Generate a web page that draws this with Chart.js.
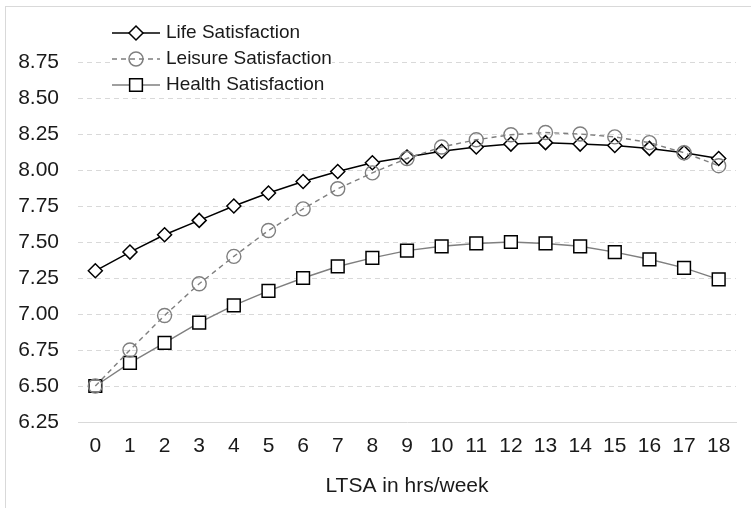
<!DOCTYPE html>
<html>
<head>
<meta charset="utf-8">
<script src="https://cdn.jsdelivr.net/npm/chart.js@4.4.1/dist/chart.umd.min.js"></script>
<style>
  body { margin: 0; background: #fff; }
  canvas { display: block; }
</style>
</head>
<body>
<canvas id="lineChart" width="751" height="508"></canvas>
<script>
// data
const hours = ['0', '1', '2', '3', '4', '5', '6', '7', '8', '9', '10', '11', '12', '13', '14', '15', '16', '17', '18'];
const lifeSat = [7.30, 7.43, 7.55, 7.65, 7.75, 7.84, 7.92, 7.99, 8.05, 8.09, 8.13, 8.16, 8.18, 8.19, 8.18, 8.17, 8.15, 8.12, 8.08];
const leisureSat = [6.50, 6.75, 6.99, 7.21, 7.40, 7.58, 7.73, 7.87, 7.98, 8.08, 8.16, 8.21, 8.245, 8.26, 8.25, 8.23, 8.19, 8.12, 8.03];
const healthSat = [6.50, 6.66, 6.80, 6.94, 7.06, 7.16, 7.25, 7.33, 7.39, 7.44, 7.47, 7.49, 7.50, 7.49, 7.47, 7.43, 7.38, 7.32, 7.24];
const yTicks = [6.25, 6.50, 6.75, 7.00, 7.25, 7.50, 7.75, 8.00, 8.25, 8.50, 8.75];

const FONT = "'Liberation Sans', Arial, sans-serif";
const TEXT = '#1a1a1a';
const GREY = '#7f7f7f';

// frame + legend drawn on top of the plot (like the Excel original)
const frameAndLegend = {
    id: 'frameAndLegend',
    afterDraw(chart) {
        const c = chart.ctx;
        c.save();
        c.strokeStyle = '#d9d9d9';
        c.lineWidth = 1;
        c.strokeRect(5.5, 6.5, 1000, 1000);

        c.fillStyle = '#fff';
        c.fillRect(110, 20, 222, 76);

        const rows = [
            { label: 'Life Satisfaction', y: 33, line: '#000', dash: [], style: 'rectRot', r: 7, fill: '#fff', stroke: '#000' },
            { label: 'Leisure Satisfaction', y: 59, line: GREY, dash: [5, 4], style: 'circle', r: 7, fill: 'rgba(0,0,0,0)', stroke: GREY },
            { label: 'Health Satisfaction', y: 85, line: GREY, dash: [], style: 'rect', r: 9, fill: '#fff', stroke: '#000' }
        ];
        rows.forEach(row => {
            c.beginPath();
            c.setLineDash(row.dash);
            c.strokeStyle = row.line;
            c.lineWidth = 1.4;
            c.moveTo(112, row.y);
            c.lineTo(160, row.y);
            c.stroke();
            c.setLineDash([]);
            c.fillStyle = row.fill;
            c.strokeStyle = row.stroke;
            c.lineWidth = 1.5;
            Chart.helpers.drawPoint(c, { pointStyle: row.style, radius: row.r, borderWidth: 1.5 }, 136, row.y);
            c.fillStyle = TEXT;
            c.font = '19px ' + FONT;
            c.textBaseline = 'middle';
            c.fillText(row.label, 166, row.y);
        });
        c.restore();
    }
};

const ctx = document.getElementById('lineChart').getContext('2d');
const lineChart = new Chart(ctx, {
    type: 'line',
    data: {
        labels: hours,
        datasets: [{
            label: 'Life Satisfaction',
            data: lifeSat,
            borderColor: '#000',
            borderWidth: 1.5,
            pointStyle: 'rectRot',
            pointRadius: 7,
            pointBackgroundColor: '#fff',
            pointBorderColor: '#000',
            pointBorderWidth: 1.5,
            order: 2
        }, {
            label: 'Leisure Satisfaction',
            data: leisureSat,
            borderColor: GREY,
            borderWidth: 1.4,
            borderDash: [5, 4],
            pointStyle: 'circle',
            pointRadius: 7,
            pointBackgroundColor: 'rgba(0,0,0,0)',
            pointBorderColor: GREY,
            pointBorderWidth: 1.4,
            order: 1
        }, {
            label: 'Health Satisfaction',
            data: healthSat,
            borderColor: GREY,
            borderWidth: 1.4,
            pointStyle: 'rect',
            pointRadius: 9,
            pointBackgroundColor: '#fff',
            pointBorderColor: '#000',
            pointBorderWidth: 1.5,
            order: 3
        }]
    },
    options: {
        responsive: false,
        animation: false,
        layout: { padding: { top: 62, right: 15, left: 0, bottom: 0 } },
        plugins: {
            legend: { display: false },
            tooltip: { enabled: false }
        },
        scales: {
            x: {
                offset: true,
                grid: { display: false, drawTicks: false },
                border: { display: true, color: '#d9d9d9', width: 1 },
                ticks: { color: TEXT, font: { family: FONT, size: 21 }, padding: 12, maxRotation: 0, autoSkip: false },
                title: { display: true, text: 'LTSA in hrs/week', color: TEXT, font: { family: FONT, size: 21 }, padding: { top: 8, bottom: 9 } },
                afterFit(scale) { scale.height = 86; }
            },
            y: {
                min: 6.25,
                max: 8.75,
                afterBuildTicks(scale) { scale.ticks = yTicks.map(v => ({ value: v })); },
                grid: { color: '#d9d9d9', lineWidth: 1, drawTicks: false },
                border: { display: false, dash: [5, 4] },
                ticks: {
                    color: TEXT,
                    font: { family: FONT, size: 21 },
                    padding: 19,
                    callback: v => Number(v).toFixed(2)
                },
                afterFit(scale) { scale.width = 78; }
            }
        }
    },
    plugins: [frameAndLegend]
});
</script>
</body>
</html>
